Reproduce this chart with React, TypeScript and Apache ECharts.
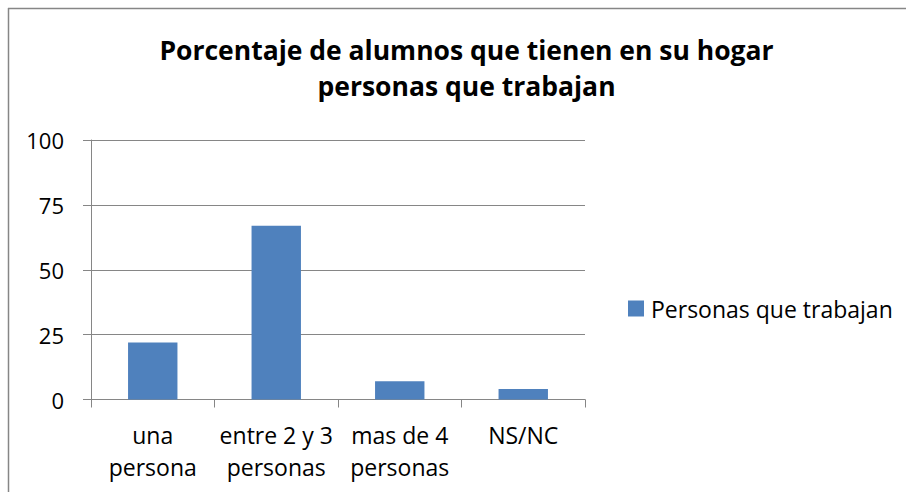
import React, { useEffect, useRef } from "react";
import * as echarts from "echarts";

const titleLines = ["Porcentaje de alumnos que tienen en su hogar", "personas que trabajan"];
const categories = ["una\npersona", "entre 2 y 3\npersonas", "mas de 4\npersonas", "NS/NC"];
const seriesName = "Personas que trabajan";
const values = [22, 67, 7, 4];
const yMin = 0;
const yMax = 100;
const yInterval = 25;

const FONT = "'Open Sans', 'Noto Sans', sans-serif";
const AXIS = "#868686";
const BAR = "#4F81BD";

export default function App() {
  const ref = useRef<HTMLDivElement>(null);
  useEffect(() => {
    if (!ref.current) return;
    const chart = echarts.init(ref.current, null, { renderer: "svg" });
    chart.setOption({
      animation: false,
      backgroundColor: "#ffffff",
      title: {
        text: titleLines.join("\n"),
        left: 461.5,
        top: 27,
        textAlign: "center",
        textStyle: {
          fontFamily: FONT,
          fontWeight: "bold",
          fontSize: 26.5,
          lineHeight: 36,
          color: "#000000",
        },
      },
      legend: {
        orient: "vertical",
        left: 628,
        top: 297,
        itemWidth: 16,
        itemHeight: 16,
        itemGap: 10,
        icon: "rect",
        padding: 0,
        textStyle: {
          fontFamily: FONT,
          fontSize: 23,
          lineHeight: 16,
          color: "#000000",
          padding: [0, 0, 0, 2],
        },
        data: [seriesName],
      },
      grid: {
        left: 91,
        right: 321,
        top: 140,
        bottom: 92.5,
        containLabel: false,
      },
      xAxis: {
        type: "category",
        data: categories,
        boundaryGap: true,
        axisLine: { show: true, lineStyle: { color: AXIS, width: 1 } },
        axisTick: { show: true, length: 8, inside: false, lineStyle: { color: AXIS } },
        axisLabel: {
          fontFamily: FONT,
          fontSize: 23,
          lineHeight: 32,
          color: "#000000",
          margin: 19,
          interval: 0,
        },
        splitLine: { show: false },
      },
      yAxis: {
        type: "value",
        min: yMin,
        max: yMax,
        interval: yInterval,
        axisLine: { show: true, lineStyle: { color: AXIS, width: 1 } },
        axisTick: { show: true, length: 8, inside: false, lineStyle: { color: AXIS } },
        axisLabel: {
          fontFamily: FONT,
          fontSize: 22,
          color: "#000000",
          margin: 27,
        },
        splitLine: { show: true, lineStyle: { color: AXIS, width: 1 } },
      },
      series: [
        {
          name: seriesName,
          type: "bar",
          data: values,
          barWidth: "40%",
          itemStyle: { color: BAR },
        },
      ],
      graphic: [
        {
          type: "line",
          shape: { x1: 8, y1: 8.5, x2: 906, y2: 8.5 },
          style: { stroke: AXIS, lineWidth: 1.5 },
          silent: true,
        },
        {
          type: "line",
          shape: { x1: 8.5, y1: 8, x2: 8.5, y2: 492 },
          style: { stroke: AXIS, lineWidth: 1.5 },
          silent: true,
        },
      ],
    });
    return () => chart.dispose();
  }, []);
  return (
    <div
      ref={ref}
      style={{ position: "fixed", left: 0, top: 0, width: 906, height: 492 }}
    />
  );
}
